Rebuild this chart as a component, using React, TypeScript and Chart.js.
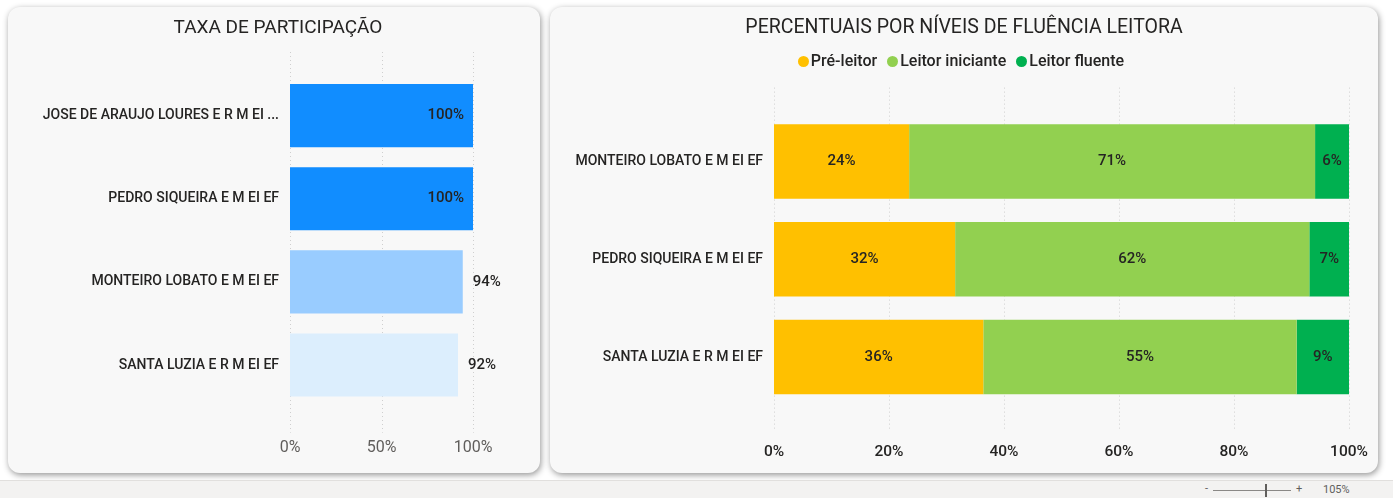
import React, { useEffect, useRef } from "react";
import { Chart, registerables } from "chart.js";

Chart.register(...registerables);

// ---------- DATA ----------
const participationSchools = [
  "JOSE DE ARAUJO LOURES E R M EI ...",
  "PEDRO SIQUEIRA E M EI EF",
  "MONTEIRO LOBATO E M EI EF",
  "SANTA LUZIA E R M EI EF",
];
const participationRates = [100, 100, 94.4, 91.8];
const participationColors = ["#118DFF", "#118DFF", "#99CCFF", "#DCEEFD"];
const participationTicks = [0, 50, 100];

const fluencySchools = [
  "MONTEIRO LOBATO E M EI EF",
  "PEDRO SIQUEIRA E M EI EF",
  "SANTA LUZIA E R M EI EF",
];
const fluencyLevels = ["Pré-leitor", "Leitor iniciante", "Leitor fluente"];
const preLeitor = [23.5, 31.5, 36.4];
const leitorIniciante = [70.6, 61.6, 54.5];
const leitorFluente = [5.9, 6.9, 9.1];
const fluencyColors = ["#FFC000", "#92D050", "#00B050"];
const fluencyTicks = [0, 20, 40, 60, 80, 100];

const FONT = "Roboto, 'Noto Sans', sans-serif";
const DARK = "#252423";

function dottedGridPlugin(extTop: number, extBottom: number) {
  return {
    id: "dottedGrid",
    beforeDatasetsDraw(chart: any) {
      const { ctx, chartArea, scales } = chart;
      const xs = scales.x;
      ctx.save();
      ctx.strokeStyle = "#cfcfcf";
      ctx.lineWidth = 1;
      ctx.setLineDash([1, 3]);
      xs.ticks.forEach((t: any) => {
        const px = Math.round(xs.getPixelForValue(t.value)) + 0.5;
        ctx.beginPath();
        ctx.moveTo(px, chartArea.top - extTop);
        ctx.lineTo(px, chartArea.bottom + extBottom);
        ctx.stroke();
      });
      ctx.restore();
    },
  };
}

const participationLabels = {
  id: "participationLabels",
  afterDatasetsDraw(chart: any) {
    const { ctx, chartArea } = chart;
    const meta = chart.getDatasetMeta(0);
    ctx.save();
    ctx.font = `500 15px ${FONT}`;
    ctx.fillStyle = DARK;
    ctx.textBaseline = "middle";
    meta.data.forEach((bar: any, i: number) => {
      const text = Math.round(participationRates[i]) + "%";
      const w = ctx.measureText(text).width;
      const pad = 9;
      if (bar.x + pad + w <= chartArea.right + 35) {
        ctx.textAlign = "left";
        ctx.fillText(text, bar.x + pad + 1, bar.y);
      } else {
        ctx.textAlign = "right";
        ctx.fillText(text, bar.x - pad, bar.y);
      }
    });
    ctx.restore();
  },
};

const fluencyLabels = {
  id: "fluencyLabels",
  afterDatasetsDraw(chart: any) {
    const { ctx } = chart;
    ctx.save();
    ctx.font = `500 15px ${FONT}`;
    ctx.fillStyle = DARK;
    ctx.textBaseline = "middle";
    ctx.textAlign = "center";
    chart.data.datasets.forEach((ds: any, di: number) => {
      const meta = chart.getDatasetMeta(di);
      meta.data.forEach((bar: any, i: number) => {
        const v = ds.data[i];
        const cx = (bar.x + bar.base) / 2;
        ctx.fillText(Math.round(v) + "%", cx, bar.y);
      });
    });
    ctx.restore();
  },
};

function ParticipationChart() {
  const ref = useRef<HTMLCanvasElement>(null);
  useEffect(() => {
    const chart = new Chart(ref.current as HTMLCanvasElement, {
      type: "bar",
      data: {
        labels: participationSchools,
        datasets: [
          {
            data: participationRates,
            backgroundColor: participationColors,
            barPercentage: 0.95,
            categoryPercentage: 0.8,
          },
        ],
      },
      options: {
        indexAxis: "y",
        animation: false,
        responsive: false,
        maintainAspectRatio: false,
        layout: { padding: { top: 67, right: 67, bottom: 0, left: 0 } },
        plugins: { legend: { display: false }, tooltip: { enabled: false } },
        scales: {
          x: {
            min: 0,
            max: 100,
            afterBuildTicks: (s: any) => {
              s.ticks = participationTicks.map((v) => ({ value: v }));
            },
            grid: { display: false, drawTicks: false },
            border: { display: false },
            ticks: {
              callback: (v: any) => v + "%",
              padding: 32,
              color: "#605E5C",
              font: { family: FONT, size: 16 },
            },
            afterFit: (s: any) => {
              s.height = 66.4;
              s.paddingLeft = 0;
              s.paddingRight = 0;
            },
          },
          y: {
            grid: { display: false, drawTicks: false },
            border: { display: false },
            ticks: {
              padding: 11,
              color: DARK,
              font: { family: FONT, size: 14, weight: "500" },
            },
            afterFit: (s: any) => {
              s.width = 282;
            },
          },
        },
      } as any,
      plugins: [dottedGridPlugin(22, 26), participationLabels],
    });
    return () => chart.destroy();
  }, []);
  return <canvas ref={ref} width={532} height={466} style={{ position: "absolute", left: 0, top: 0 }} />;
}

function FluencyChart() {
  const ref = useRef<HTMLCanvasElement>(null);
  useEffect(() => {
    const series = [preLeitor, leitorIniciante, leitorFluente];
    const chart = new Chart(ref.current as HTMLCanvasElement, {
      type: "bar",
      data: {
        labels: fluencySchools,
        datasets: fluencyLevels.map((name, i) => ({
          label: name,
          data: series[i],
          backgroundColor: fluencyColors[i],
          barPercentage: 0.95,
          categoryPercentage: 0.8,
        })),
      },
      options: {
        indexAxis: "y",
        animation: false,
        responsive: false,
        maintainAspectRatio: false,
        layout: { padding: { top: 105.6, right: 29, bottom: 0, left: 0 } },
        plugins: { legend: { display: false }, tooltip: { enabled: false } },
        scales: {
          x: {
            stacked: true,
            min: 0,
            max: 100,
            afterBuildTicks: (s: any) => {
              s.ticks = fluencyTicks.map((v) => ({ value: v }));
            },
            grid: { display: false, drawTicks: false },
            border: { display: false },
            ticks: {
              callback: (v: any) => v + "%",
              padding: 37,
              color: DARK,
              font: { family: FONT, size: 15.5, weight: "500" },
            },
            afterFit: (s: any) => {
              s.height = 67.1;
              s.paddingLeft = 0;
              s.paddingRight = 0;
            },
          },
          y: {
            stacked: true,
            grid: { display: false, drawTicks: false },
            border: { display: false },
            ticks: {
              padding: 11,
              color: DARK,
              font: { family: FONT, size: 14, weight: "500" },
            },
            afterFit: (s: any) => {
              s.width = 224;
            },
          },
        },
      } as any,
      plugins: [dottedGridPlugin(25, 25), fluencyLabels],
    });
    return () => chart.destroy();
  }, []);
  return <canvas ref={ref} width={828} height={466} style={{ position: "absolute", left: 0, top: 0 }} />;
}

const cardStyle: React.CSSProperties = {
  position: "absolute",
  top: 7,
  height: 466,
  background: "#F8F8F8",
  borderRadius: 12,
  boxShadow: "1px 2px 6px rgba(0,0,0,0.42)",
  overflow: "hidden",
};

const titleStyle: React.CSSProperties = {
  position: "absolute",
  top: 10,
  left: 0,
  width: "100%",
  textAlign: "center",
  lineHeight: "20px",
  color: DARK,
  fontFamily: FONT,
  zIndex: 2,
};

export default function App() {
  return (
    <div
      style={{
        position: "fixed",
        left: 0,
        top: 0,
        width: 1393,
        height: 498,
        background: "#FFFFFF",
        overflow: "hidden",
        fontFamily: FONT,
      }}
    >
      <div style={{ ...cardStyle, left: 8, width: 532 }}>
        <ParticipationChart />
        <div style={{ ...titleStyle, left: 4, fontSize: 19 }}>TAXA DE PARTICIPAÇÃO</div>
      </div>
      <div style={{ ...cardStyle, left: 550, width: 828 }}>
        <FluencyChart />
        <div style={{ ...titleStyle, fontSize: 19.5 }}>PERCENTUAIS POR NÍVEIS DE FLUÊNCIA LEITORA</div>
        <div
          style={{
            position: "absolute",
            top: 44,
            left: -3,
            width: "100%",
            display: "flex",
            justifyContent: "center",
            alignItems: "center",
            gap: 10,
            fontSize: 16,
            fontWeight: 500,
            lineHeight: "20px",
            color: DARK,
            zIndex: 2,
          }}
        >
          {fluencyLevels.map((name, i) => (
            <div key={name} style={{ display: "flex", alignItems: "center", gap: 2 }}>
              <span
                style={{
                  display: "inline-block",
                  width: 11,
                  height: 11,
                  borderRadius: "50%",
                  background: fluencyColors[i],
                }}
              />
              <span>{name}</span>
            </div>
          ))}
        </div>
      </div>
      <div
        style={{
          position: "absolute",
          left: 0,
          top: 480,
          width: 1393,
          height: 18,
          background: "#F3F2F1",
          borderTop: "1px solid #E1DFDD",
        }}
      >
        <span style={{ position: "absolute", left: 1205, top: 1, fontSize: 11, color: "#605E5C" }}>-</span>
        <div style={{ position: "absolute", left: 1213, top: 9, width: 78, height: 1, background: "#8A8886" }} />
        <div style={{ position: "absolute", left: 1265, top: 3, width: 2, height: 13, background: "#605E5C" }} />
        <span style={{ position: "absolute", left: 1296, top: 1, fontSize: 11, color: "#605E5C" }}>+</span>
        <span style={{ position: "absolute", left: 1323, top: 2, fontSize: 11, color: "#605E5C" }}>105%</span>
      </div>
    </div>
  );
}
